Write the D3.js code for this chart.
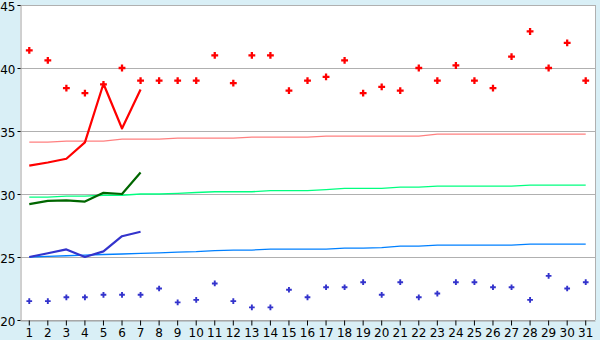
<!DOCTYPE html>
<html>
<head>
<meta charset="utf-8">
<script src="https://cdn.jsdelivr.net/npm/d3@7"></script>
<style>
  html, body { margin: 0; padding: 0; background: #d9eff6; }
  svg { display: block; font-family: "DejaVu Sans", Verdana, sans-serif; }
</style>
</head>
<body>
<div id="chart"></div>
<script>
const days = d3.range(1, 32);
const yTicks = [20, 25, 30, 35, 40, 45];

// daily max / min (markers)
const maxTemps = [41.4, 40.6, 38.4, 38.0, 38.7, 40.0, 39.0, 39.0, 39.0, 39.0,
  41.0, 38.8, 41.0, 41.0, 38.2, 39.0, 39.3, 40.6, 38.0, 38.5,
  38.2, 40.0, 39.0, 40.2, 39.0, 38.4, 40.9, 42.9, 40.0, 42.0, 39.0];
const minTemps = [21.5, 21.5, 21.8, 21.8, 22.0, 22.0, 22.0, 22.5, 21.4, 21.6,
  22.9, 21.5, 21.0, 21.0, 22.4, 21.8, 22.6, 22.6, 23.0, 22.0,
  23.0, 21.8, 22.1, 23.0, 23.0, 22.6, 22.6, 21.6, 23.5, 22.5, 23.0];

// first week (thick lines)
const highLine = [32.25, 32.5, 32.8, 34.1, 38.75, 35.2, 38.3];
const meanLine = [29.2, 29.45, 29.5, 29.4, 30.1, 30.0, 31.7];
const lowLine = [25.0, 25.3, 25.6, 25.0, 25.45, 26.65, 27.0];

// normals (thin lines)
const highNormal = [34.12, 34.12, 34.2, 34.2, 34.2, 34.36, 34.36, 34.36, 34.44, 34.44,
  34.44, 34.44, 34.52, 34.52, 34.52, 34.52, 34.6, 34.6, 34.6, 34.6,
  34.6, 34.6, 34.75, 34.75, 34.75, 34.75, 34.75, 34.75, 34.75, 34.75, 34.75];
const meanNormal = [29.75, 29.75, 29.83, 29.83, 29.9, 29.9, 30.0, 30.0, 30.05, 30.12,
  30.18, 30.18, 30.18, 30.26, 30.26, 30.26, 30.34, 30.45, 30.45, 30.45,
  30.55, 30.55, 30.62, 30.62, 30.62, 30.62, 30.62, 30.7, 30.7, 30.7, 30.7];
const lowNormal = [25.0, 25.05, 25.1, 25.15, 25.2, 25.24, 25.28, 25.32, 25.38, 25.42,
  25.5, 25.55, 25.55, 25.62, 25.62, 25.62, 25.62, 25.7, 25.7, 25.75,
  25.86, 25.86, 25.94, 25.94, 25.94, 25.94, 25.94, 26.02, 26.02, 26.02, 26.02];

const width = 600, height = 340;
const margin = { top: 5, right: 5, bottom: 20, left: 20 };

const svg = d3.select("#chart").append("svg")
  .attr("width", width)
  .attr("height", height);

const x = d3.scaleBand()
  .domain(days)
  .range([margin.left, width - margin.right]);
const cx = d => x(d) + x.bandwidth() / 2;

const y = d3.scaleLinear()
  .domain([20, 45])
  .range([height - margin.bottom, margin.top]);

// plot area
svg.append("rect")
  .attr("x", margin.left)
  .attr("y", margin.top)
  .attr("width", width - margin.left - margin.right)
  .attr("height", height - margin.top - margin.bottom)
  .attr("fill", "#fff");

// gridlines
svg.append("g")
  .selectAll("line")
  .data(yTicks)
  .join("line")
  .attr("x1", margin.left)
  .attr("x2", width - margin.right)
  .attr("y1", d => Math.round(y(d)) + 0.5)
  .attr("y2", d => Math.round(y(d)) + 0.5)
  .attr("stroke", "#b0b0b0");

// right border
svg.append("line")
  .attr("x1", width - margin.right + 0.5)
  .attr("x2", width - margin.right + 0.5)
  .attr("y1", margin.top)
  .attr("y2", height - margin.bottom)
  .attr("stroke", "#b0b0b0");

// Y axis
const yAxis = d3.axisLeft(y)
  .tickValues(yTicks)
  .tickSize(3)
  .tickPadding(2);
const yAxisEl = svg.append("g")
  .attr("transform", `translate(${margin.left + 0.5},0)`)
  .call(yAxis);
yAxisEl.select(".domain").attr("stroke", "#a0a0a0");
yAxisEl.selectAll(".tick line").attr("stroke", "#000");
yAxisEl.selectAll("text")
  .attr("font-size", 12)
  .attr("dy", "0.45em")
  .attr("fill", "#000")
  .attr("font-family", "DejaVu Sans");

// X axis
const xAxis = d3.axisBottom(x)
  .tickSize(5)
  .tickPadding(3)
  .tickSizeOuter(0);
const xAxisEl = svg.append("g")
  .attr("transform", `translate(0,${height - margin.bottom + 0.5})`)
  .call(xAxis);
xAxisEl.select(".domain").attr("stroke", "#a0a0a0");
xAxisEl.selectAll(".tick line").attr("stroke", "#000");
xAxisEl.selectAll("text")
  .attr("font-size", 12)
  .attr("fill", "#000")
  .attr("font-family", "DejaVu Sans");

// normal lines
const line = d3.line()
  .x((d, i) => cx(days[i]))
  .y(d => y(d));

[[highNormal, "#ff8080"], [meanNormal, "#00ff80"], [lowNormal, "#0080ff"]]
  .forEach(([vals, col]) => {
    svg.append("path")
      .datum(vals)
      .attr("d", line)
      .attr("fill", "none")
      .attr("stroke", col)
      .attr("stroke-width", 1.3);
  });

// first week lines
[[highLine, "#ff0000"], [meanLine, "#006600"], [lowLine, "#3333cc"]]
  .forEach(([vals, col]) => {
    svg.append("path")
      .datum(vals)
      .attr("d", line)
      .attr("fill", "none")
      .attr("stroke", col)
      .attr("stroke-width", 2.2)
      .attr("stroke-linejoin", "round");
  });

// markers
const crossBig = d3.symbol().type(d3.symbolCross).size(26);
const crossSmall = d3.symbol().type(d3.symbolCross).size(18);

svg.append("g")
  .selectAll("path")
  .data(maxTemps)
  .join("path")
  .attr("d", crossBig)
  .attr("transform", (d, i) => `translate(${cx(days[i])},${y(d)})`)
  .attr("fill", "#ff0000");

svg.append("g")
  .selectAll("path")
  .data(minTemps)
  .join("path")
  .attr("d", crossSmall)
  .attr("transform", (d, i) => `translate(${cx(days[i])},${y(d)})`)
  .attr("fill", "#3333cc");
</script>
</body>
</html>
